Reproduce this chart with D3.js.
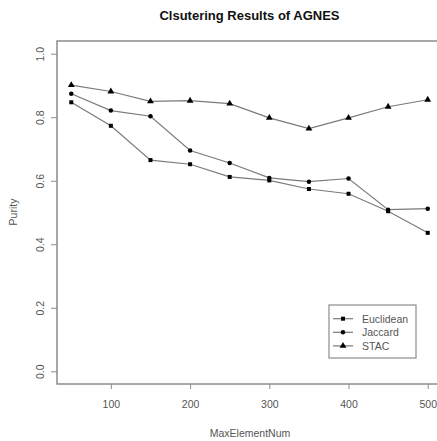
<!DOCTYPE html>
<html>
<head>
<meta charset="utf-8">
<script src="https://cdn.jsdelivr.net/npm/d3@7"></script>
<style>
  html, body { margin: 0; padding: 0; background: #fff; }
  svg { display: block; font-family: "Liberation Sans", Arial, sans-serif; }
</style>
</head>
<body>
<svg id="chart" width="437" height="441"></svg>
<script>
// Clustering purity by maximum element number
const maxElementNum = [50, 100, 150, 200, 250, 300, 350, 400, 450, 500];
const euclidean = [0.847, 0.773, 0.665, 0.652, 0.612, 0.601, 0.574, 0.559, 0.504, 0.436];
const jaccard   = [0.874, 0.821, 0.803, 0.695, 0.656, 0.609, 0.597, 0.607, 0.509, 0.512];
const stac      = [0.901, 0.881, 0.850, 0.852, 0.843, 0.798, 0.764, 0.798, 0.833, 0.855];
const seriesNames = ["Euclidean", "Jaccard", "STAC"];
const xTicks = [100, 200, 300, 400, 500];
const yTicks = [0.0, 0.2, 0.4, 0.6, 0.8, 1.0];

const series = [
  { name: seriesNames[0], values: euclidean, shape: d3.symbolSquare },
  { name: seriesNames[1], values: jaccard, shape: d3.symbolCircle },
  { name: seriesNames[2], values: stac, shape: d3.symbolTriangle }
];

const svg = d3.select("#chart");
const plotLeft = 57, plotRight = 442, plotTop = 41, plotBottom = 384;

// axis ranges padded 4% beyond the data, as in R base graphics
const x = d3.scaleLinear().domain([32, 518]).range([plotLeft, plotRight]);
const y = d3.scaleLinear().domain([-0.04, 1.04]).range([plotBottom, plotTop]);

const lineColor = "#7a7a7a";
const frameColor = "#8c8c8c";
const textColor = "#555";
const labelSize = 10.5;
const symbolArea = shape => shape === d3.symbolTriangle ? 20 : 16;

// plot frame
svg.append("rect")
  .attr("x", plotLeft).attr("y", plotTop)
  .attr("width", plotRight - plotLeft).attr("height", plotBottom - plotTop)
  .attr("fill", "none").attr("stroke", frameColor).attr("stroke-width", 1.5);

// x axis
const xAxis = svg.append("g").attr("transform", `translate(0,${plotBottom})`)
  .call(d3.axisBottom(x).tickValues(xTicks).tickSize(5).tickPadding(12).tickFormat(d3.format("d")));
xAxis.select(".domain").remove();
xAxis.selectAll(".tick line").attr("stroke", frameColor);
xAxis.selectAll(".tick text").attr("fill", textColor).attr("font-size", labelSize)
  .attr("font-family", "Liberation Sans, Arial, sans-serif");

// y axis with vertical labels
const yAxis = svg.append("g").attr("transform", `translate(${plotLeft},0)`)
  .call(d3.axisLeft(y).tickValues(yTicks).tickSize(6).tickFormat(d3.format(".1f")));
yAxis.select(".domain").remove();
yAxis.selectAll(".tick line").attr("stroke", frameColor);
yAxis.selectAll(".tick text")
  .attr("fill", textColor).attr("font-size", labelSize)
  .attr("font-family", "Liberation Sans, Arial, sans-serif")
  .attr("x", null).attr("dy", null)
  .attr("text-anchor", "middle")
  .attr("transform", "translate(-17,0) rotate(-90)")
  .attr("dominant-baseline", "central");

// titles
svg.append("text")
  .attr("x", 249.5).attr("y", 19.5)
  .attr("text-anchor", "middle").attr("font-weight", "bold").attr("font-size", 13)
  .attr("fill", "#111")
  .text("Clsutering Results of AGNES");

svg.append("text")
  .attr("x", 250).attr("y", 437)
  .attr("text-anchor", "middle").attr("font-size", labelSize).attr("fill", textColor)
  .text("MaxElementNum");

svg.append("text")
  .attr("transform", "translate(17,212) rotate(-90)")
  .attr("text-anchor", "middle").attr("font-size", labelSize).attr("fill", textColor)
  .text("Purity");

// lines and points
const line = d3.line().x((d, i) => x(maxElementNum[i])).y(d => y(d));

series.forEach(s => {
  svg.append("path")
    .datum(s.values)
    .attr("d", line)
    .attr("fill", "none").attr("stroke", lineColor).attr("stroke-width", 1.2);
  svg.append("g").selectAll("path")
    .data(s.values)
    .join("path")
    .attr("transform", (d, i) => `translate(${x(maxElementNum[i])},${y(d)})`)
    .attr("d", d3.symbol().type(s.shape).size(symbolArea(s.shape)))
    .attr("fill", "#000");
});

// legend
const lg = svg.append("g");
lg.append("rect")
  .attr("x", 329).attr("y", 305).attr("width", 87).attr("height", 53)
  .attr("fill", "#fff").attr("stroke", frameColor).attr("stroke-width", 1.2);
series.forEach((s, i) => {
  const yy = 318.7 + i * 13.6;
  lg.append("line").attr("x1", 333).attr("x2", 353).attr("y1", yy).attr("y2", yy)
    .attr("stroke", lineColor).attr("stroke-width", 1.2);
  lg.append("path")
    .attr("transform", `translate(343,${yy})`)
    .attr("d", d3.symbol().type(s.shape).size(symbolArea(s.shape)))
    .attr("fill", "#000");
  lg.append("text").attr("x", 362).attr("y", yy).attr("dominant-baseline", "central")
    .attr("font-size", labelSize).attr("fill", textColor).text(s.name);
});
</script>
</body>
</html>
